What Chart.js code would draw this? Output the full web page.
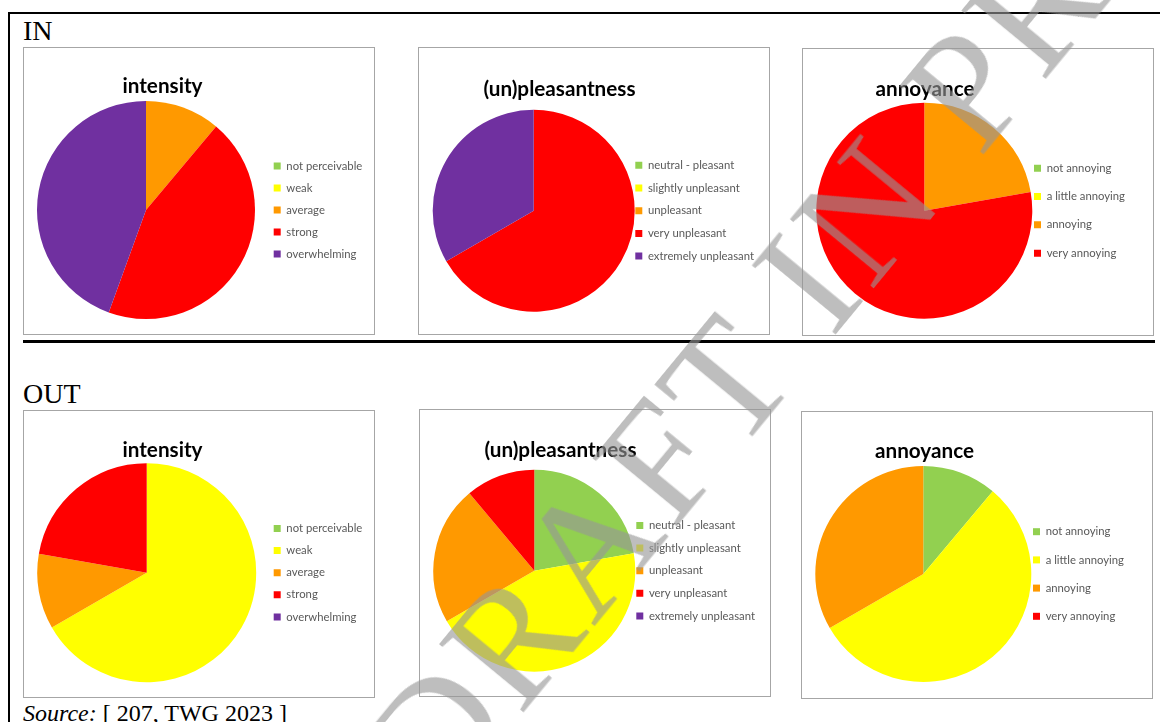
<!DOCTYPE html>
<html>
<head>
<meta charset="utf-8">
<title>Odour perception IN / OUT</title>
<script src="https://cdn.jsdelivr.net/npm/chart.js@4.4.1/dist/chart.umd.min.js"></script>
<style>
    html, body { margin: 0; padding: 0; background: #fff; }
    #page {
        position: relative;
        width: 1160px;
        height: 722px;
        overflow: hidden;
        font-family: 'Liberation Serif', 'Times New Roman', serif;
        color: #000;
    }
    .rule { position: absolute; background: #000; }
    .label { position: absolute; font-size: 28px; line-height: 1; }
    .panel {
        position: absolute;
        width: 350px;
        height: 286px;
        border: 1px solid #a6a6a6;
        background: #fff;
    }
    .panel canvas { display: block; }
    #source { position: absolute; left: 23px; top: 701px; font-size: 24px; line-height: 1; white-space: nowrap; }
    #watermark {
        position: absolute;
        left: 334px;
        top: 726px;
        font-size: 165px;
        letter-spacing: 6px;
        line-height: 1;
        white-space: nowrap;
        color: rgba(150, 150, 150, 0.62);
        transform-origin: 0 0;
        transform: rotate(-50.5deg);
        pointer-events: none;
    }
</style>
</head>
<body>
<div id="page">
    <div class="rule" style="left:8px; top:12px; width:1152px; height:2px;"></div>
    <div class="rule" style="left:8px; top:12px; width:2px; height:710px;"></div>
    <div class="rule" style="left:23px; top:340px; width:1132px; height:3px;"></div>

    <div class="label" style="left:23px; top:17px;">IN</div>
    <div class="label" style="left:23px; top:380px;">OUT</div>
    <div id="source"><i>Source:</i> [ 207, TWG 2023 ]</div>

    <div id="watermark">DRAFT IN PROGRESS</div>
</div>

<script>
// category labels
const intensityLabels = ['not perceivable', 'weak', 'average', 'strong', 'overwhelming'];
const pleasantLabels = ['neutral - pleasant', 'slightly unpleasant', 'unpleasant', 'very unpleasant', 'extremely unpleasant'];
const annoyanceLabels = ['not annoying', 'a little annoying', 'annoying', 'very annoying'];

// answers (count of responses) - IN
const inIntensity = [0, 0, 1, 4, 4];
const inPleasant = [0, 0, 0, 6, 3];
const inAnnoyance = [0, 0, 2, 7];

// answers - OUT
const outIntensity = [0, 6, 1, 2, 0];
const outPleasant = [2, 4, 2, 1, 0];
const outAnnoyance = [1, 5, 3, 0];

const palette = ['#92d050', '#ffff00', '#ff9900', '#ff0000', '#7030a0'];

// where things sit inside each 350x286 chart box (tx/ty = title centre / baseline, lx = legend marker left)
const panels = [
    { title: 'intensity', labels: intensityLabels, values: inIntensity, left: 23, top: 47, cx: 122, cy: 162, r: 109, tx: 138.5, ty: 45.3, lx: 249.7, gap: 22 },
    { title: '(un)pleasantness', labels: pleasantLabels, values: inPleasant, left: 418, top: 47, cx: 114.7, cy: 162.7, r: 101, tx: 140.5, ty: 48, lx: 216.3, gap: 22.7 },
    { title: 'annoyance', labels: annoyanceLabels, values: inAnnoyance, left: 802, top: 48, cx: 121.3, cy: 161.7, r: 108, tx: 122, ty: 46.5, lx: 231, gap: 28.3 },
    { title: 'intensity', labels: intensityLabels, values: outIntensity, left: 23, top: 410, cx: 122.7, cy: 161.7, r: 109.5, tx: 138.5, ty: 45.7, lx: 249.7, gap: 22.1 },
    { title: '(un)pleasantness', labels: pleasantLabels, values: outPleasant, left: 419, top: 409, cx: 114.3, cy: 160.7, r: 101, tx: 140.5, ty: 46.7, lx: 216.3, gap: 22.6 },
    { title: 'annoyance', labels: annoyanceLabels, values: outAnnoyance, left: 801, top: 411, cx: 121.3, cy: 162, r: 108, tx: 122.5, ty: 46.3, lx: 231, gap: 28.2 }
];

const W = 350;
const H = 286;
const legendFont = { family: 'Lato', size: 11.3 };
const boxW = 7;
const titleSize = 20.7;

// chart title drawn where the spreadsheet put it (centred over pie + legend, not over the pie)
const panelTitle = {
    id: 'panelTitle',
    afterDraw(chart, args, opts) {
        const ctx = chart.ctx;
        ctx.save();
        ctx.font = 'bold ' + opts.size + 'px Lato';
        ctx.fillStyle = '#000';
        ctx.textAlign = 'center';
        ctx.textBaseline = 'alphabetic';
        ctx.fillText(opts.text, opts.x, opts.y);
        ctx.restore();
    }
};

const measureCtx = document.createElement('canvas').getContext('2d');

function legendWidth(labels, lp) {
    measureCtx.font = legendFont.size + 'px ' + legendFont.family;
    const widest = Math.max(...labels.map(t => measureCtx.measureText(t).width));
    return lp + boxW + legendFont.size / 2 + widest + 10;
}

function buildChart(p) {
    const box = document.createElement('div');
    box.className = 'panel';
    box.style.left = p.left + 'px';
    box.style.top = p.top + 'px';
    const canvas = document.createElement('canvas');
    canvas.width = W;
    canvas.height = H;
    box.appendChild(canvas);
    document.getElementById('page').insertBefore(box, document.getElementById('watermark'));

    // work back from the wanted pie centre / legend spot to layout paddings
    const lp = p.gap - legendFont.size;
    const chartRight = p.lx - lp;
    const padL = 2 * p.cx - chartRight;
    const padR = W - chartRight - legendWidth(p.labels, lp);
    const padT = p.cy - 115;
    const padB = H - p.cy - 115;

    return new Chart(canvas.getContext('2d'), {
        type: 'pie',
        data: {
            labels: p.labels,
            datasets: [{
                data: p.values,
                backgroundColor: palette.slice(0, p.labels.length),
                borderWidth: 0
            }]
        },
        options: {
            responsive: false,
            animation: false,
            devicePixelRatio: 1,
            events: [],
            radius: p.r,
            layout: {
                padding: { left: padL, right: padR, top: padT, bottom: padB }
            },
            plugins: {
                panelTitle: { text: p.title, x: p.tx, y: p.ty, size: titleSize },
                title: { display: false },
                legend: {
                    display: true,
                    position: 'right',
                    fullSize: false,
                    align: 'center',
                    labels: {
                        boxWidth: boxW,
                        boxHeight: 7,
                        padding: lp,
                        color: '#595959',
                        font: legendFont
                    }
                },
                tooltip: { enabled: false }
            }
        },
        plugins: [panelTitle]
    });
}

panels.forEach(buildChart);
</script>
</body>
</html>
